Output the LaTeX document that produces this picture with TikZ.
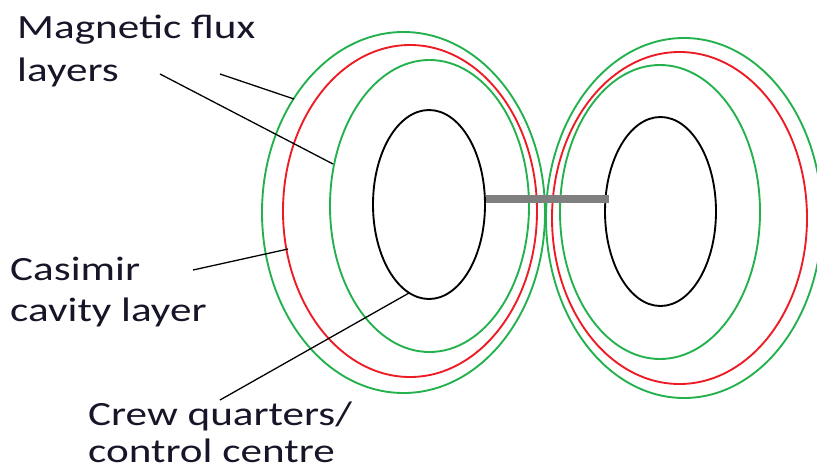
\documentclass[tikz,border=0pt]{standalone}
\usepackage{fontspec}
\usepackage{graphicx}
\setmainfont{Carlito}
\definecolor{fluxgreen}{RGB}{34,177,76}
\definecolor{cavityred}{RGB}{237,28,36}
\definecolor{bargray}{RGB}{127,127,127}
\definecolor{labelink}{RGB}{22,22,40}
\newcommand{\widelabel}[1]{\scalebox{1.27}[1]{\begin{tabular}[t]{@{}l@{}}#1\end{tabular}}}
\tikzset{
  fluxring/.style={fluxgreen, line width=1.6pt},
  cavityring/.style={cavityred, line width=1.6pt},
  crewring/.style={black, line width=1.6pt},
  linkbar/.style={bargray, line width=6.5pt},
  pointer/.style={black, line width=1.1pt},
  lbltext/.style={font=\fontsize{29}{#1}\selectfont, text=labelink, inner sep=0pt, anchor=base west},
  lbltext/.default=36pt
}
\begin{document}
\begin{tikzpicture}[x=0.03cm, y=-0.03cm]
            \useasboundingbox (0,0) rectangle (817,470);

            % Left module
            \draw[fluxring] (403.5,212.5) ellipse [x radius=141.5, y radius=180.5];
            \draw[cavityring] (410,211) ellipse [x radius=127, y radius=166];
            \draw[fluxring] (429.5,206) ellipse [x radius=99.5, y radius=146];
            \draw[crewring] (429,204.5) ellipse [x radius=56, y radius=94.5];

            % Right module
            \draw[fluxring] (684,218) ellipse [x radius=138, y radius=180];
            \draw[cavityring] (679.5,218) ellipse [x radius=127.5, y radius=166];
            \draw[fluxring] (660,212) ellipse [x radius=100, y radius=147];
            \draw[crewring] (660.5,211.5) ellipse [x radius=55.5, y radius=94.5];

            % Connecting tube
            \coordinate (tubeleft) at (486,199);
            \coordinate (tuberight) at (609,199);
            \draw[linkbar] (tubeleft) -- (tuberight);

            % Labels
            \node[lbltext=37pt] (fluxlbl) at (17,38) {\widelabel{Magnetic flux\\layers}};
            \node[lbltext=35.6pt] (cavitylbl) at (10,280) {\widelabel{Casimir\\cavity layer}};
            \node[lbltext=32.4pt] (crewlbl) at (88,425) {\widelabel{Crew quarters/\\control centre}};

            % Pointer lines
            \coordinate (fluxtailA) at (220,74);
            \coordinate (fluxheadA) at (294,99);
            \coordinate (fluxtailB) at (160,74);
            \coordinate (fluxheadB) at (333,164);
            \coordinate (cavitytail) at (193,270);
            \coordinate (cavityhead) at (288,249);
            \coordinate (crewtail) at (220,400);
            \coordinate (crewhead) at (409,293);
            \draw[pointer] (fluxtailA) -- (fluxheadA);
            \draw[pointer] (fluxtailB) -- (fluxheadB);
            \draw[pointer] (cavitytail) -- (cavityhead);
            \draw[pointer] (crewtail) -- (crewhead);
\end{tikzpicture}
\end{document}
